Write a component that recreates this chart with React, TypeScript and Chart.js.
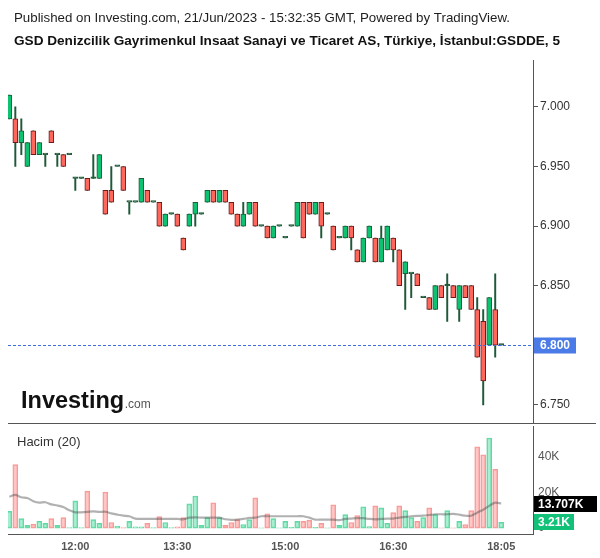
import React, { useEffect, useRef } from 'react';
import { Chart, registerables } from 'chart.js';

Chart.register(...registerables);

const FONT = "'Liberation Sans', Arial, Helvetica, sans-serif";

const titleLine1 = 'Published on Investing.com, 21/Jun/2023 - 15:32:35 GMT, Powered by TradingView.';
const titleLine2 = 'GSD Denizcilik Gayrimenkul Insaat Sanayi ve Ticaret AS, Türkiye, İstanbul:GSDDE, 5';
const volumeLegend = 'Hacim (20)';
const maValueLabel = '13.707K';
const lastVolumeLabel = '3.21K';

// 5-minute candles (index order)
const opens = [
  6.99, 6.99, 6.97, 6.95, 6.98, 6.96, 6.96, 6.98, 6.96, 6.96,
  6.96, 6.94, 6.94, 6.94, 6.94, 6.94, 6.93, 6.93, 6.95, 6.95,
  6.92, 6.92, 6.92, 6.93, 6.92, 6.92, 6.90, 6.91, 6.91, 6.89,
  6.90, 6.91, 6.91, 6.92, 6.93, 6.92, 6.93, 6.92, 6.91, 6.90,
  6.91, 6.92, 6.90, 6.90, 6.89, 6.90, 6.89, 6.90, 6.90, 6.92,
  6.92, 6.91, 6.92, 6.91, 6.90, 6.89, 6.89, 6.90, 6.88, 6.87,
  6.89, 6.89, 6.87, 6.88, 6.89, 6.88, 6.86, 6.86, 6.86, 6.84,
  6.84, 6.83, 6.85, 6.85, 6.85, 6.83, 6.85, 6.85, 6.83, 6.82,
  6.80, 6.83, 6.80,
];
const highs = [
  7.01, 7.00, 6.99, 6.97, 6.98, 6.97, 6.96, 6.98, 6.96, 6.96,
  6.96, 6.94, 6.94, 6.94, 6.96, 6.96, 6.93, 6.95, 6.95, 6.95,
  6.92, 6.92, 6.94, 6.93, 6.92, 6.92, 6.91, 6.91, 6.91, 6.89,
  6.91, 6.92, 6.91, 6.93, 6.93, 6.93, 6.93, 6.92, 6.91, 6.92,
  6.92, 6.92, 6.90, 6.90, 6.90, 6.90, 6.89, 6.90, 6.92, 6.92,
  6.92, 6.92, 6.92, 6.91, 6.90, 6.89, 6.90, 6.90, 6.88, 6.89,
  6.90, 6.89, 6.90, 6.90, 6.89, 6.88, 6.87, 6.86, 6.86, 6.84,
  6.84, 6.85, 6.85, 6.86, 6.85, 6.85, 6.85, 6.85, 6.84, 6.83,
  6.84, 6.86, 6.80,
];
const lows = [
  6.99, 6.95, 6.96, 6.95, 6.96, 6.96, 6.95, 6.97, 6.95, 6.95,
  6.96, 6.93, 6.94, 6.93, 6.94, 6.94, 6.91, 6.92, 6.95, 6.93,
  6.91, 6.92, 6.92, 6.92, 6.92, 6.90, 6.90, 6.91, 6.90, 6.88,
  6.90, 6.90, 6.91, 6.92, 6.92, 6.92, 6.92, 6.91, 6.90, 6.90,
  6.91, 6.90, 6.90, 6.89, 6.89, 6.90, 6.89, 6.90, 6.90, 6.89,
  6.91, 6.91, 6.89, 6.91, 6.88, 6.89, 6.89, 6.88, 6.87, 6.87,
  6.89, 6.87, 6.87, 6.88, 6.87, 6.85, 6.83, 6.84, 6.85, 6.84,
  6.83, 6.83, 6.84, 6.82, 6.84, 6.82, 6.84, 6.83, 6.79, 6.75,
  6.80, 6.79, 6.80,
];
const closes = [
  7.01, 6.97, 6.98, 6.97, 6.96, 6.97, 6.96, 6.97, 6.96, 6.95,
  6.96, 6.94, 6.94, 6.93, 6.94, 6.96, 6.91, 6.92, 6.95, 6.93,
  6.92, 6.92, 6.94, 6.92, 6.92, 6.90, 6.91, 6.91, 6.90, 6.88,
  6.91, 6.92, 6.91, 6.93, 6.92, 6.93, 6.92, 6.91, 6.90, 6.91,
  6.92, 6.90, 6.90, 6.89, 6.90, 6.90, 6.89, 6.90, 6.92, 6.89,
  6.91, 6.92, 6.90, 6.91, 6.88, 6.89, 6.90, 6.89, 6.87, 6.89,
  6.90, 6.87, 6.89, 6.90, 6.88, 6.85, 6.87, 6.86, 6.85, 6.84,
  6.83, 6.85, 6.84, 6.85, 6.84, 6.85, 6.84, 6.83, 6.79, 6.77,
  6.84, 6.80, 6.80,
];
// Volume in thousands
const volumes = [
  9.3, 35.4, 5.3, 1.5, 2.2, 3.8, 2.6, 5.3, 1.5, 5.8,
  0.3, 15.2, 0.3, 20.6, 4.7, 2.6, 20.1, 3.1, 1.0, 0.3,
  3.7, 0.7, 0.7, 2.6, 0.3, 6.4, 3.1, 0.3, 0.7, 5.8,
  13.5, 17.9, 1.5, 5.8, 14.1, 5.8, 1.5, 3.1, 4.7, 2.0,
  4.7, 16.8, 0.2, 8.0, 5.3, 0.2, 3.7, 0.4, 3.7, 3.7,
  4.4, 0.4, 2.6, 0.2, 13.0, 1.5, 7.5, 3.1, 6.9, 11.9,
  0.9, 12.4, 11.3, 2.6, 8.6, 12.4, 9.7, 5.8, 3.7, 5.8,
  11.3, 7.5, 0.2, 9.7, 0.2, 3.7, 2.0, 9.7, 45.3, 40.9,
  50.2, 32.7, 3.21,
];
// Volume moving average (20), thousands
const volumeMA = [
  17.5, 18.5, 17.2, 16.8, 15.0, 14.2, 14.4, 13.2, 12.6, 11.7,
  9.9, 8.8, 8.8, 9.0, 9.3, 9.0, 9.1, 8.2, 7.5, 6.9,
  6.6, 5.3, 5.1, 5.1, 5.1, 5.1, 5.1, 5.1, 5.1, 4.9,
  5.8, 6.0, 5.8, 5.8, 5.8, 5.8, 4.9, 4.6, 4.7, 5.1,
  5.7, 5.8, 6.6, 6.6, 6.6, 6.6, 6.6, 6.6, 6.6, 6.6,
  5.8, 4.7, 4.7, 4.7, 4.7, 4.4, 5.1, 5.3, 5.5, 5.5,
  5.1, 4.9, 5.1, 5.3, 5.3, 5.8, 6.2, 6.6, 6.8, 6.9,
  7.3, 7.7, 7.7, 7.7, 7.9, 7.5, 6.9, 6.9, 8.6, 10.2,
  12.4, 14.2, 13.7,
];

const priceTicks = [6.75, 6.8, 6.85, 6.9, 6.95, 7.0];
const volumeTicks = [0, 20, 40];
const timeTickIndex = [11, 28, 46, 64, 82];
const timeTickLabels = ['12:00', '13:30', '15:00', '16:30', '18:05'];

const UP = '#0fc271';
const UP_BORDER = '#16603a';
const DOWN = '#fd675c';
const DOWN_BORDER = '#6e1a1a';
const WICK = '#1f5a38';
const VOL_UP = 'rgba(118,226,180,0.6)';
const VOL_UP_BORDER = '#62d8a4';
const VOL_DOWN = 'rgba(255,170,170,0.65)';
const VOL_DOWN_BORDER = '#f59a96';
const AXIS = '#555555';

const X_MIN = -0.22;
const X_MAX = 87.3;

export default function App() {
  const priceRef = useRef<HTMLCanvasElement>(null);
  const volRef = useRef<HTMLCanvasElement>(null);

  useEffect(() => {
    Chart.defaults.font.family = FONT;
    const idx = closes.map((_, i) => i);
    const last = closes.length - 1;
    const up = idx.map((i) => closes[i] >= opens[i]);
    const doji = idx.map((i) => closes[i] === opens[i]);
    const bodyFill = idx.map((i) => (doji[i] ? WICK : up[i] ? UP : DOWN));
    const bodyBorder = idx.map((i) => (doji[i] ? WICK : up[i] ? UP_BORDER : DOWN_BORDER));

    const pricePlugin = {
      id: 'priceDecor',
      beforeDraw(chart: any) {
        const ctx = chart.ctx;
        ctx.save();
        ctx.fillStyle = '#ffffff';
        ctx.fillRect(0, 0, chart.width, chart.height);
        ctx.restore();
      },
      afterDraw(chart: any) {
        const ctx = chart.ctx;
        const ys = chart.scales.y;
        const area = chart.chartArea;
        ctx.save();
        // titles
        ctx.textBaseline = 'alphabetic';
        ctx.textAlign = 'left';
        ctx.fillStyle = '#1e1e1e';
        ctx.font = `13.3px ${FONT}`;
        ctx.fillText(titleLine1, 14, 22);
        ctx.fillStyle = '#111';
        ctx.font = `bold 13.6px ${FONT}`;
        ctx.fillText(titleLine2, 14, 45);

        // last price dashed line
        const yp = Math.round(ys.getPixelForValue(closes[last])) + 0.5;
        ctx.strokeStyle = '#3c6ee0';
        ctx.lineWidth = 1;
        ctx.setLineDash([3, 2]);
        ctx.beginPath();
        ctx.moveTo(area.left, yp);
        ctx.lineTo(area.right, yp);
        ctx.stroke();
        ctx.setLineDash([]);
        // last price label
        ctx.fillStyle = '#4a7be6';
        ctx.fillRect(area.right + 1, yp - 8, 42, 16);
        ctx.fillStyle = '#ffffff';
        ctx.font = `bold 12px ${FONT}`;
        ctx.textBaseline = 'middle';
        ctx.textAlign = 'center';
        ctx.fillText(closes[last].toFixed(3), area.right + 22, yp + 0.5);

        // logo
        ctx.textAlign = 'left';
        ctx.textBaseline = 'alphabetic';
        ctx.fillStyle = '#111';
        ctx.font = `bold 23.5px ${FONT}`;
        ctx.fillText('Investing', 21, 408);
        const w = ctx.measureText('Investing').width;
        ctx.fillStyle = '#555';
        ctx.font = `12px ${FONT}`;
        ctx.fillText('.com', 21 + w + 0.5, 408);

        // separator
        ctx.strokeStyle = AXIS;
        ctx.beginPath();
        ctx.moveTo(8, 423.5);
        ctx.lineTo(596, 423.5);
        ctx.stroke();
        ctx.restore();
      },
    };

    const priceChart = new Chart(priceRef.current as HTMLCanvasElement, {
      type: 'bar',
      data: {
        datasets: [
          {
            data: idx.map((i) => ({ x: i, y: [opens[i], closes[i]] })) as any,
            backgroundColor: bodyFill,
            borderColor: bodyBorder,
            borderWidth: 1,
            borderSkipped: false,
            barThickness: 5,
            minBarLength: 1.6,
            grouped: false,
            order: 0,
          } as any,
          {
            data: idx.map((i) => ({ x: i, y: [lows[i], highs[i]] })) as any,
            backgroundColor: WICK,
            borderWidth: 0,
            barThickness: 1.3,
            grouped: false,
            order: 1,
          } as any,
        ],
      },
      options: {
        animation: false,
        responsive: false,
        maintainAspectRatio: false,
        layout: { padding: { left: 8, top: 60, right: 0, bottom: 9 } },
        plugins: { legend: { display: false }, tooltip: { enabled: false } },
        scales: {
          x: { type: 'linear', min: X_MIN, max: X_MAX, offset: false, display: false },
          y: {
            position: 'right',
            min: 6.7349,
            max: 7.0394,
            afterFit: (s: any) => {
              s.width = 67;
            },
            afterBuildTicks: (s: any) => {
              s.ticks = priceTicks.map((v) => ({ value: v }));
            },
            ticks: {
              callback: (v: any) => Number(v).toFixed(3),
              color: '#333',
              font: { size: 12, family: FONT },
              padding: 2,
            },
            grid: { drawOnChartArea: false, drawTicks: true, tickLength: 5, color: AXIS },
            border: { display: true, color: AXIS },
          },
        },
      } as any,
      plugins: [pricePlugin],
    });

    const volFill = idx.map((i) => (up[i] ? VOL_UP : VOL_DOWN));
    const volBorder = idx.map((i) => (up[i] ? VOL_UP_BORDER : VOL_DOWN_BORDER));

    const volPlugin = {
      id: 'volDecor',
      afterDraw(chart: any) {
        const ctx = chart.ctx;
        const ys = chart.scales.y;
        const area = chart.chartArea;
        ctx.save();
        ctx.fillStyle = '#333';
        ctx.font = `13px ${FONT}`;
        ctx.textBaseline = 'middle';
        ctx.textAlign = 'left';
        ctx.fillText(volumeLegend, 17, area.top + 16);

        const yMa = Math.round(ys.getPixelForValue(volumeMA[last]));
        ctx.fillStyle = '#000';
        ctx.fillRect(area.right + 1, yMa - 8, 63, 16);
        ctx.fillStyle = '#fff';
        ctx.font = `bold 12px ${FONT}`;
        ctx.fillText(maValueLabel, area.right + 5, yMa + 0.5);

        const yV = Math.round(ys.getPixelForValue(volumes[last]));
        ctx.fillStyle = '#10c177';
        ctx.fillRect(area.right + 1, yV - 8, 40, 16);
        ctx.fillStyle = '#fff';
        ctx.fillText(lastVolumeLabel, area.right + 5, yV + 0.5);
        ctx.restore();
      },
    };

    const volChart = new Chart(volRef.current as HTMLCanvasElement, {
      type: 'bar',
      data: {
        datasets: [
          {
            type: 'line',
            data: idx.map((i) => ({ x: i, y: volumeMA[i] })) as any,
            borderColor: 'rgba(70,70,70,0.42)',
            borderWidth: 2.2,
            pointRadius: 0,
            tension: 0.3,
            order: 0,
          } as any,
          {
            data: idx.map((i) => ({ x: i, y: volumes[i] })) as any,
            backgroundColor: volFill,
            borderColor: volBorder,
            borderWidth: 1,
            borderSkipped: false,
            barThickness: 5,
            grouped: false,
            order: 1,
          } as any,
        ],
      },
      options: {
        animation: false,
        responsive: false,
        maintainAspectRatio: false,
        layout: { padding: { left: 8, top: 10, right: 0, bottom: 0 } },
        plugins: { legend: { display: false }, tooltip: { enabled: false } },
        scales: {
          x: {
            type: 'linear',
            min: X_MIN,
            max: X_MAX,
            offset: false,
            afterBuildTicks: (s: any) => {
              s.ticks = timeTickIndex.map((v) => ({ value: v }));
            },
            afterFit: (s: any) => {
              s.height = 24;
            },
            ticks: {
              autoSkip: false,
              maxRotation: 0,
              callback: (v: any) => {
                const k = timeTickIndex.indexOf(Number(v));
                return k >= 0 ? timeTickLabels[k] : '';
              },
              color: '#555',
              font: { size: 11, weight: 'bold', family: FONT },
              padding: 6,
            },
            grid: { display: false, drawTicks: false },
            border: { display: true, color: AXIS },
          },
          y: {
            position: 'right',
            min: -3.3,
            max: 56.8,
            afterFit: (s: any) => {
              s.width = 67;
            },
            afterBuildTicks: (s: any) => {
              s.ticks = volumeTicks.map((v) => ({ value: v }));
            },
            ticks: {
              callback: (v: any) => (Number(v) === 0 ? '0' : `${v}K`),
              color: '#555',
              font: { size: 12, family: FONT },
              padding: 5,
            },
            grid: { display: false, drawTicks: false },
            border: { display: true, color: AXIS },
          },
        },
      } as any,
      plugins: [volPlugin],
    });

    return () => {
      priceChart.destroy();
      volChart.destroy();
    };
  }, []);

  return (
    <div style={{ position: 'absolute', left: 0, top: 0, width: 600, height: 558, background: '#fff' }}>
      <canvas
        ref={priceRef}
        width={600}
        height={432}
        style={{ position: 'absolute', left: 0, top: 0, width: 600, height: 432, display: 'block' }}
      />
      <canvas
        ref={volRef}
        width={600}
        height={144}
        style={{ position: 'absolute', left: 0, top: 414, width: 600, height: 144, display: 'block' }}
      />
    </div>
  );
}
